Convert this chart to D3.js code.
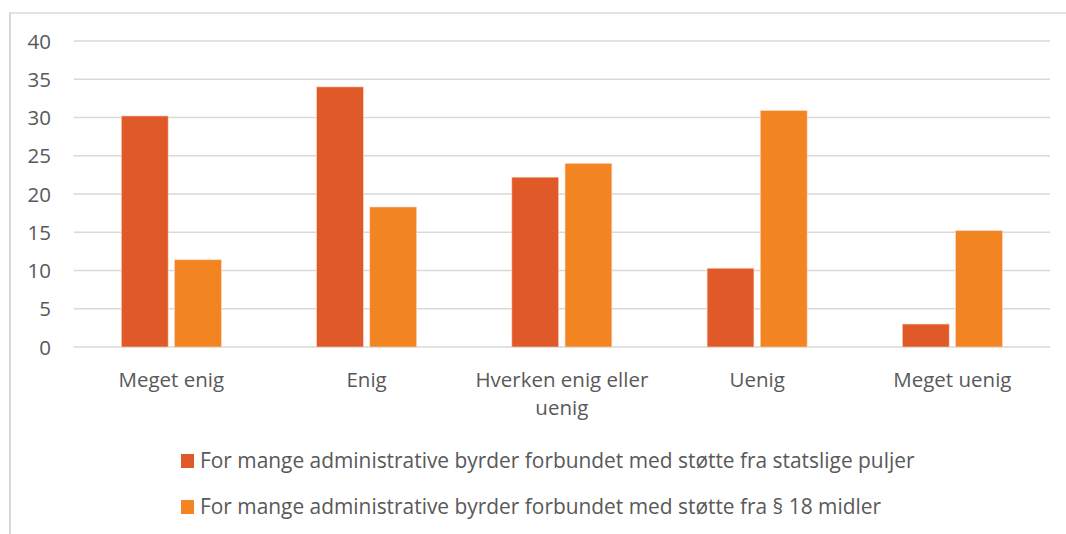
<!DOCTYPE html>
<html>
<head>
<meta charset="utf-8">
<script src="https://cdn.jsdelivr.net/npm/d3@7"></script>
<style>
  html, body { margin: 0; padding: 0; background: #fff; }
  svg { display: block; }
  text { font-family: "Open Sans", "Noto Sans", sans-serif; fill: #595959; }
</style>
</head>
<body>
<svg id="chart" width="1066" height="534"></svg>
<script>
const categories = ["Meget enig", "Enig", "Hverken enig eller uenig", "Uenig", "Meget uenig"];
const seriesNames = [
  "For mange administrative byrder forbundet med støtte fra statslige puljer",
  "For mange administrative byrder forbundet med støtte fra § 18 midler"
];
const statsligeValues = [30.2, 34.0, 22.2, 10.3, 3.0];
const midlerValues = [11.4, 18.3, 24.0, 30.9, 15.2];
const yTicks = [0, 5, 10, 15, 20, 25, 30, 35, 40];
const colors = ["#df5a28", "#f38422"];

const svg = d3.select("#chart");

// outer frame (left and top edges visible)
svg.append("line").attr("x1", 10).attr("x2", 10).attr("y1", 12.5).attr("y2", 534)
  .attr("stroke", "#d9d9d9").attr("stroke-width", 2);
svg.append("line").attr("x1", 9).attr("x2", 1066).attr("y1", 13).attr("y2", 13)
  .attr("stroke", "#d9d9d9").attr("stroke-width", 1.5);

const margin = { left: 73.7, right: 1050, top: 41, bottom: 347 };
const FS = 20.5;
const LFS = 20.9;

const x = d3.scaleBand().domain(categories).range([margin.left, margin.right]).paddingInner(0).paddingOuter(0);
const xInner = d3.scaleBand().domain([0, 1]).range([x.bandwidth() / 2 - 50, x.bandwidth() / 2 + 50]).paddingInner(0.12);
const y = d3.scaleLinear().domain([0, 40]).range([margin.bottom, margin.top]);

// gridlines
svg.append("g").selectAll("line").data(yTicks).join("line")
  .attr("x1", margin.left).attr("x2", margin.right)
  .attr("y1", d => y(d)).attr("y2", d => y(d))
  .attr("stroke", "#d9d9d9").attr("stroke-width", 1.3);

// y axis labels
const yAxis = d3.axisLeft(y).tickValues(yTicks).tickSize(0).tickPadding(0);
const yg = svg.append("g").attr("transform", "translate(51,0)").call(yAxis);
yg.select(".domain").remove();
yg.selectAll("text").attr("font-size", FS).attr("fill", "#595959")
  .style("font-family", '"Open Sans", "Noto Sans", sans-serif').attr("dy", "0.35em");

// bars
const series = [statsligeValues, midlerValues];
series.forEach((vals, si) => {
  svg.append("g").selectAll("rect").data(vals).join("rect")
    .attr("x", (d, i) => x(categories[i]) + xInner(si))
    .attr("width", xInner.bandwidth())
    .attr("y", d => y(d))
    .attr("height", d => y(0) - y(d))
    .attr("fill", colors[si])
    .attr("stroke", "#fbd5c0").attr("stroke-width", 0.6);
});

// category labels
const catLines = [["Meget enig"], ["Enig"], ["Hverken enig eller", "uenig"], ["Uenig"], ["Meget uenig"]];
const cg = svg.append("g");
categories.forEach((c, i) => {
  const t = cg.append("text")
    .attr("x", x(c) + x.bandwidth() / 2)
    .attr("y", 387)
    .attr("text-anchor", "middle")
    .attr("font-size", FS);
  catLines[i].forEach((ln, j) => {
    t.append("tspan").attr("x", x(c) + x.bandwidth() / 2).attr("dy", j === 0 ? 0 : 28).text(ln);
  });
});

// legend
const lg = svg.append("g");
seriesNames.forEach((name, i) => {
  const yy = 461 + i * 46;
  lg.append("rect").attr("x", 181).attr("y", yy - 7).attr("width", 13).attr("height", 14).attr("fill", colors[i]);
  lg.append("text").attr("x", 200).attr("y", yy).attr("dy", "0.35em").attr("font-size", LFS).text(name);
});
</script>
</body>
</html>
